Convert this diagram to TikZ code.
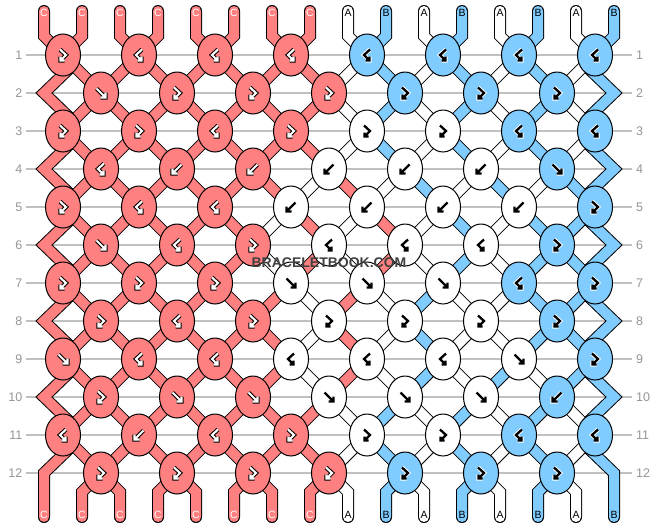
\documentclass[tikz,border=0pt]{standalone}
\usepackage{fontspec}
\setmainfont{Liberation Sans}
\usetikzlibrary{shapes.geometric}
\definecolor{kr}{RGB}{255,128,128}
\definecolor{kb}{RGB}{128,204,255}
\definecolor{kw}{RGB}{255,255,255}
\definecolor{rowgray}{RGB}{192,192,192}
\definecolor{numgray}{RGB}{150,150,150}
\definecolor{wmgray}{RGB}{64,64,64}
\tikzset{
  so/.style={line width=12pt, draw=black, line cap=round, line join=miter},
  sf/.style={line width=10pt, draw=#1, line cap=round, line join=miter},
  knot/.style={ellipse, draw=black, line width=1pt, minimum width=35pt, minimum height=42pt, inner sep=0pt},
  rowline/.style={draw=rowgray, line width=1.5pt},
  rownum/.style={text=numgray, font=\fontsize{12.5}{12.5}\selectfont, inner sep=0pt},
  strlab/.style={font=\fontsize{10.5}{10.5}\selectfont, inner sep=0pt},
  go r/.style={line width=4.2pt, draw=black, line cap=square, line join=miter},
  gi r/.style={line width=2.1pt, draw=white, line cap=square, line join=miter},
  go b/.style={line width=4.2pt, draw=white, line cap=square, line join=miter},
  gi b/.style={line width=2.3pt, draw=black, line cap=square, line join=miter},
  go w/.style={go b},
  gi w/.style={gi b},
  pics/gF/.style={code={\draw[#1] (-4.5,-4.5)--(4.5,4.5) (4.5,-0.5)--(4.5,4.5)--(-0.5,4.5);}},
  pics/gB/.style={code={\draw[#1] (4.5,-4.5)--(-4.5,4.5) (-4.5,-0.5)--(-4.5,4.5)--(0.5,4.5);}},
  pics/gFB/.style={code={\draw[#1] (-3,-5.5)--(3,0)--(-2.5,5.5) (-2.5,1.5)--(-2.5,5.5)--(1.5,5.5);}},
  pics/gBF/.style={code={\draw[#1] (3,-5.5)--(-3,0)--(2.5,5.5) (2.5,1.5)--(2.5,5.5)--(-1.5,5.5);}},
}
\newcommand\strpass[1]{%
  \foreach \c [count=\p from 0] in {r,r,r,r,r,r,r,r,w,b,w,b,w,b,w,b}{%
    \pgfmathtruncatemacro\ia{\p/2}%
    \edef\cc{k\c}%
    \draw[#1=\cc] (Ta-\p) -- (Tb-\p) -- (P-1-\ia);
  }%
  \foreach \r/\lst in {
    1/{r,r,r,r,r,r,r,r,w,b,w,b,w,b,w,b},
    2/{r,r,r,r,r,r,r,r,w,b,w,b,w,b,w,b},
    3/{r,r,r,r,r,r,r,r,w,b,w,b,w,b,w,b},
    4/{r,r,r,r,r,r,r,w,r,w,b,w,b,w,b,b},
    5/{r,r,r,r,r,r,w,r,w,r,w,b,w,b,b,b},
    6/{r,r,r,r,r,r,w,r,w,r,w,b,w,b,b,b},
    7/{r,r,r,r,r,r,r,w,r,w,b,w,w,b,b,b},
    8/{r,r,r,r,r,r,r,w,r,w,b,w,w,b,b,b},
    9/{r,r,r,r,r,r,r,w,r,w,b,w,b,w,b,b},
    10/{r,r,r,r,r,r,r,r,w,b,w,b,w,b,w,b},
    11/{r,r,r,r,r,r,r,r,w,b,w,b,w,b,w,b}}{%
    \pgfmathtruncatemacro\rr{\r+1}%
    \foreach \c [count=\p from 0] in \lst {%
      \ifnum\p>0 \ifnum\p<15
        \pgfmathtruncatemacro\ia{(\p-1+mod(\r,2))/2}%
        \pgfmathtruncatemacro\ib{(\p-1+mod(\rr,2))/2}%
        \edef\cc{k\c}%
        \draw[#1=\cc] (P-\r-\ia) -- (P-\rr-\ib);
      \fi\fi
    }%
  }%
  \foreach \c [count=\p from 0] in {r,r,r,r,r,r,r,r,w,b,w,b,w,b,w,b}{%
    \ifnum\p>0 \ifnum\p<15
      \pgfmathtruncatemacro\ib{(\p-1)/2}%
      \edef\cc{k\c}%
      \draw[#1=\cc] (P-12-\ib) -- (Ba-\p) -- (Bb-\p);
    \fi\fi
  }%
  \foreach \r in {1,3,5,7,9}{%
    \pgfmathtruncatemacro\ra{\r+1}%
    \pgfmathtruncatemacro\rb{\r+2}%
    \draw[#1=kr] (P-\r-0) -- (KLd-\r) -- (EL-\ra) -- (KLu-\rb) -- (P-\rb-0);
    \draw[#1=kb] (P-\r-7) -- (KRd-\r) -- (ER-\ra) -- (KRu-\rb) -- (P-\rb-7);
  }%
  \draw[#1=kr] (P-11-0) -- (KLd-11) -- (EL-12) -- (Bb-0);
  \draw[#1=kb] (P-11-7) -- (KRd-11) -- (ER-12) -- (Bb-15);
}
\begin{document}
\begin{tikzpicture}[x=1pt,y=-1pt]
\useasboundingbox[fill=white] (0,0) rectangle (658,528);
% lattice coordinates
\foreach \r in {1,...,12}{
  \pgfmathsetmacro\ky{55+38*(\r-1)}
  \foreach \i in {0,...,7}{
    \pgfmathsetmacro\kx{63+76*\i+38*(1-mod(\r,2))}
    \coordinate (P-\r-\i) at (\kx,\ky);
  }
  \coordinate (EL-\r) at (44,\ky);
  \coordinate (ER-\r) at (614,\ky);
  \coordinate (KLd-\r) at (71,{\ky+12});
  \coordinate (KLu-\r) at (71,{\ky-12});
  \coordinate (KRd-\r) at (587,{\ky+12});
  \coordinate (KRu-\r) at (587,{\ky-12});
}
\foreach \p in {0,...,15}{
  \coordinate (Ta-\p) at ({44+38*\p},11);
  \coordinate (Tb-\p) at ({44+38*\p},36);
  \coordinate (Ba-\p) at ({44+38*\p},492);
  \coordinate (Bb-\p) at ({44+38*\p},517);
}
% row numbers and guide lines
\foreach \r in {1,...,12}{
  \pgfmathsetmacro\ky{55+38*(\r-1)}
  \node[rownum, anchor=east] (NL-\r) at (22.5,\ky) {\r};
  \node[rownum, anchor=west] (NR-\r) at (636,\ky) {\r};
  \draw[rowline] ([xshift=3.5pt]NL-\r.east) -- ([xshift=-4pt]NR-\r.west);
}
% strings: outlines, then fills
\strpass{so}
\strpass{sf}
% knots and knot symbols
\foreach \r/\lst in {
  1/{FB/r,BF/r,BF/r,BF/r,BF/b,BF/b,BF/b,BF/b},
  2/{F/r,FB/r,FB/r,FB/r,FB/b,FB/b,FB/b},
  3/{FB/r,FB/r,BF/r,FB/r,FB/w,FB/w,BF/b,BF/b},
  4/{BF/r,B/r,B/r,B/w,B/w,B/w,F/b},
  5/{FB/r,BF/r,BF/r,B/w,B/w,B/w,B/w,FB/b},
  6/{F/r,BF/r,FB/r,BF/w,BF/w,BF/w,FB/b},
  7/{FB/r,FB/r,FB/r,F/w,F/w,F/w,BF/b,FB/b},
  8/{FB/r,BF/r,FB/r,FB/w,FB/w,FB/w,FB/b},
  9/{F/r,BF/r,BF/r,BF/w,BF/w,BF/w,F/w,FB/b},
  10/{FB/r,F/r,F/r,F/w,F/w,F/w,B/b},
  11/{BF/r,B/r,BF/r,FB/r,FB/w,FB/w,BF/b,BF/b},
  12/{FB/r,FB/r,FB/r,FB/r,FB/b,FB/b,FB/b}}{
  \foreach \t/\c [count=\i from 0] in \lst {
    \edef\tmp{\noexpand\node[knot, fill=k\c] (K-\r-\i) at (P-\r-\i) {};
      \noexpand\pic at (P-\r-\i) {g\t={go \c}};
      \noexpand\pic at (P-\r-\i) {g\t={gi \c}};}
    \tmp
  }
}
% string letters
\foreach \p in {0,...,7}{
  \node[strlab, text=white] (TL-\p) at ({44+38*\p},13) {C};
  \node[strlab, text=white] (BL-\p) at ({44+38*\p},515) {C};
}
\foreach \p in {8,10,12,14}{
  \node[strlab] (TL-\p) at ({44+38*\p},13) {A};
  \node[strlab] (BL-\p) at ({44+38*\p},515) {A};
}
\foreach \p in {9,11,13,15}{
  \node[strlab] (TL-\p) at ({44+38*\p},13) {B};
  \node[strlab] (BL-\p) at ({44+38*\p},515) {B};
}
% watermark
\node[font=\bfseries\fontsize{14}{14}\selectfont, text=wmgray, inner sep=0pt] (wm) at (329,263) {BRACELETBOOK.COM};
\end{tikzpicture}
\end{document}
